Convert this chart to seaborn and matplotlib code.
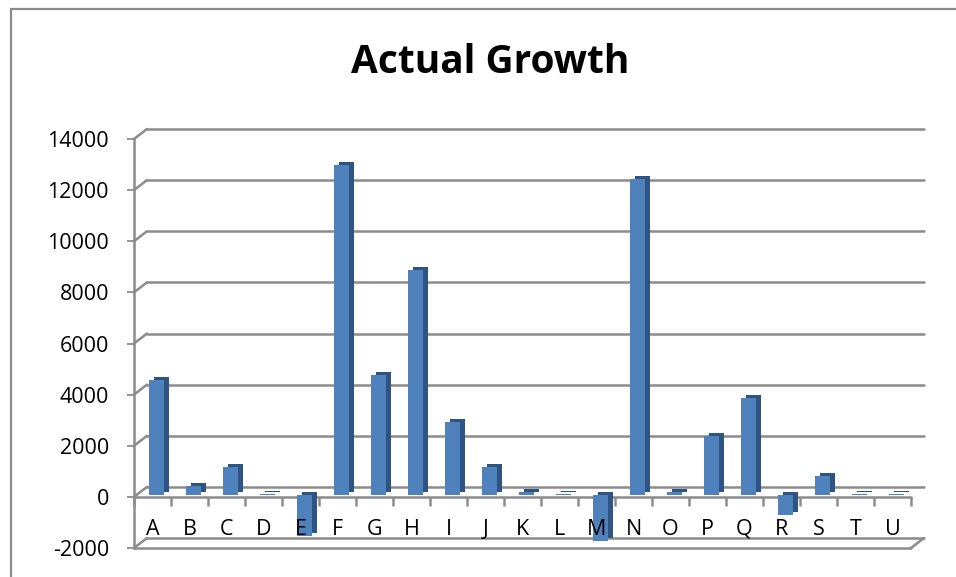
import numpy as np
import matplotlib
matplotlib.use("Agg")
import matplotlib.pyplot as plt
import matplotlib.transforms as mtransforms
from matplotlib.lines import Line2D
from matplotlib.patches import Rectangle
import seaborn as sns

# Data
categories = list("ABCDEFGHIJKLMNOPQRSTU")
growth = [4500, 350, 1100, 20, -1600, 12900, 4700, 8800, 2850, 1100,
          100, 50, -1800, 12350, 100, 2300, 3800, -800, 750, 20, 50]
y_ticks = list(range(-2000, 14001, 2000))

sns.set_theme(style="white")
plt.rcParams['font.family'] = ['Open Sans', 'DejaVu Sans']

W, H, DPI = 956, 577, 100
fig = plt.figure(figsize=(W / DPI, H / DPI), dpi=DPI)
ax = fig.add_axes([134 / W, (H - 548) / H, (911 - 134) / W, (548 - 139) / H])
ax.set_xlim(-0.5, 20.5)
ax.set_ylim(-2000, 14000)

grid_col = '#8c8c8c'
front_col = '#4f81bd'
side_col = '#2f5483'

# offsets (pixels) for the fake 3D depth
back_tr = mtransforms.offset_copy(ax.transData, fig, x=13, y=10, units='dots')
face_tr = mtransforms.offset_copy(ax.transData, fig, x=4, y=2, units='dots')
side_tr = mtransforms.offset_copy(ax.transData, fig, x=9, y=5, units='dots')

# back wall gridlines
for v in y_ticks:
    ax.plot([-0.5, 20.5], [v, v], transform=back_tr, color=grid_col,
            lw=1.8, zorder=0.5, clip_on=False)

# left diagonals joining the front axis to the back wall
for v in y_ticks:
    p0 = ax.transData.transform((-0.5, v))
    fig.add_artist(Line2D([p0[0], p0[0] + 13], [p0[1], p0[1] + 10],
                          transform=None, color=grid_col, lw=1.8, zorder=0.5))
# right diagonal of the floor
p0 = ax.transData.transform((20.5, -2000))
fig.add_artist(Line2D([p0[0], p0[0] + 13], [p0[1], p0[1] + 10],
                      transform=None, color=grid_col, lw=1.8, zorder=0.5))

# front floor lines
ax.plot([-0.5, 20.5], [0, 0], color=grid_col, lw=1.8, zorder=0.6, clip_on=False)
ax.plot([-0.5, 20.5], [-2000, -2000], color=grid_col, lw=1.8, zorder=0.6, clip_on=False)
ax.plot(np.arange(-0.5, 21, 1.0), np.zeros(22), ls='none', marker=3,
        markersize=6.5, mew=1.8, color=grid_col, zorder=0.6, clip_on=False)

# bars: dark shifted layer for side/top, then front face
n0 = len(ax.patches)
sns.barplot(x=categories, y=growth, color=side_col, saturation=1,
            width=0.405, linewidth=0, ax=ax)
for p in ax.patches[n0:]:
    p.set_transform(side_tr)
    p.set_zorder(1)
    p.set_linewidth(0)
n1 = len(ax.patches)
sns.barplot(x=categories, y=growth, color=front_col, saturation=1,
            width=0.405, linewidth=0, ax=ax)
for p in ax.patches[n1:]:
    p.set_transform(face_tr)
    p.set_zorder(1.1)
    p.set_linewidth(0)

ax.set_xlim(-0.5, 20.5)
ax.set_ylim(-2000, 14000)
ax.set_xlabel('')
ax.set_ylabel('')

for s in ['top', 'right', 'bottom']:
    ax.spines[s].set_visible(False)
ax.spines['left'].set_color(grid_col)
ax.spines['left'].set_linewidth(1.8)

ax.set_yticks(y_ticks)
ax.set_yticklabels([str(v) for v in y_ticks])
ax.tick_params(axis='y', left=True, length=5, width=1.3, color=grid_col,
               pad=13, labelsize=15.5, labelcolor='black')
ax.set_xticks(range(len(categories)))
ax.set_xticklabels(categories)
ax.tick_params(axis='x', bottom=False, length=0, pad=-21, labelsize=15.5,
               labelcolor='black')
ax.set_axisbelow(False)
ax.xaxis.set_zorder(5)

fig.text(490 / W, (H - 73) / H, 'Actual Growth', ha='center', va='baseline',
         fontsize=28, fontweight='bold', color='black')

# chart frame
fig.add_artist(Rectangle((11 / W, -0.1), 1.2, (H - 9) / H + 0.1,
                         transform=fig.transFigure, fill=False,
                         ec='#8a8a8a', lw=1.6))

fig.savefig('out.png', dpi=DPI)
